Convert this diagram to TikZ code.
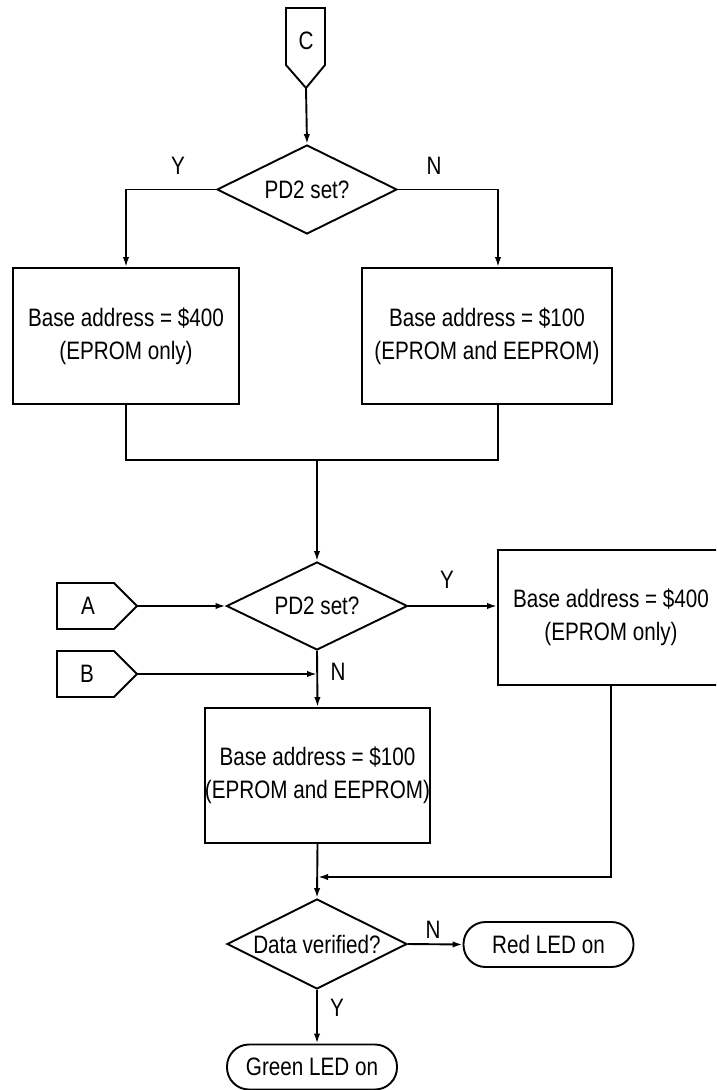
\documentclass[tikz,border=0pt]{standalone}
\usepackage{fontspec}
\setmainfont{Liberation Sans}[FakeStretch=0.82]
\usetikzlibrary{shapes.geometric,arrows.meta,calc}
\begin{document}
\begin{tikzpicture}[x=0.5pt,y=-0.5pt,
  every node/.style={font=\fontsize{12.6}{16.5}\selectfont},
  ln/.style={line width=0.95pt},
  arr/.style={ln,-{Latex[length=5pt,width=3.2pt]}},
  procbox/.style={draw,ln,rectangle,align=center,inner sep=0pt},
  decide/.style={draw,ln,diamond,aspect=2,inner sep=0pt},
  term/.style={draw,ln,rectangle,rounded corners=11pt,inner sep=0pt,minimum width=85pt,minimum height=22.5pt},
  lbl/.style={inner sep=0pt}]
\clip (0,0) rectangle (716,1090);
\fill[white] (0,0) rectangle (716,1090);

% off-page connector C
\draw[ln] (286,8) -- (325,8) -- (325,65) -- (306,88) -- (286,65) -- cycle;
\node[lbl] (Ctxt) at (306,41) {C};
\coordinate (Ctip) at (306,88);

% first decision
\node[decide,minimum width=90pt,minimum height=44.5pt] (d1) at (307,189.5) {PD2 set?};
\node[lbl] (y1) at (178,166) {Y};
\node[lbl] (n1) at (434,166) {N};

\node[procbox,minimum width=113pt,minimum height=68pt] (b1) at (126,336) {Base address = \$400\\(EPROM only)};
\node[procbox,minimum width=125pt,minimum height=68pt] (b2) at (487,336) {Base address = \$100\\(EPROM and EEPROM)};
\coordinate (b2in) at ($(b2.north)+(11,0)$);
\coordinate (b2out) at ($(b2.south)+(11,0)$);
\coordinate (join) at (317,460);

\draw[arr] (Ctip) -- (d1.north);
\draw[arr] (d1.west) -| (b1.north);
\draw[arr] (d1.east) -| (b2in);
\draw[ln] (b1.south) |- (join);
\draw[ln] (b2out) |- (join);

% second decision
\node[decide,minimum width=90.5pt,minimum height=44pt] (d2) at (317,606) {PD2 set?};
\draw[arr] (join) -- (d2.north);

% connectors A and B
\draw[ln] (57,583) -- (114,583) -- (137,606) -- (114,629) -- (57,629) -- cycle;
\node[lbl] (Atxt) at (88,606) {A};
\coordinate (Atip) at (137,606);
\draw[ln] (57,651) -- (114,651) -- (137,674) -- (114,697) -- (57,697) -- cycle;
\node[lbl] (Btxt) at (87,674) {B};
\coordinate (Btip) at (137,674);

\node[procbox,minimum width=113pt,minimum height=67.5pt] (b4) at (611,617.5) {Base address = \$400\\(EPROM only)};
\node[procbox,minimum width=112.5pt,minimum height=67.5pt] (b3) at (317.5,775.5) {Base address = \$100\\(EPROM and EEPROM)};

\node[lbl] (y2) at (447,580) {Y};
\node[lbl] (n2) at (338,672) {N};

\draw[arr] (Atip) -- (d2.west);
\draw[arr] (d2.east) -- (d2.east -| b4.west);
\coordinate (bjoin) at (317,674);
\draw[arr] (Btip) -- (bjoin);
\draw[arr] (d2.south) -- (b3.north);

% merge
\coordinate (merge) at (318,877);
\node[decide,minimum width=90pt,minimum height=45pt] (d3) at (317,944) {Data verified?};
\draw[arr] (b3.south) -- (d3.north);
\draw[arr] (b4.south) |- (merge);

\node[term] (red) at (548.5,944.5) {Red LED on};
\node[term] (green) at (312,1067) {Green LED on};
\node[lbl] (n3) at (433,930) {N};
\node[lbl] (y3) at (337,1008) {Y};
\draw[arr] (d3.east) -- (red.west);
\draw[arr] (d3.south) -- (d3.south |- green.north);
\end{tikzpicture}
\end{document}
